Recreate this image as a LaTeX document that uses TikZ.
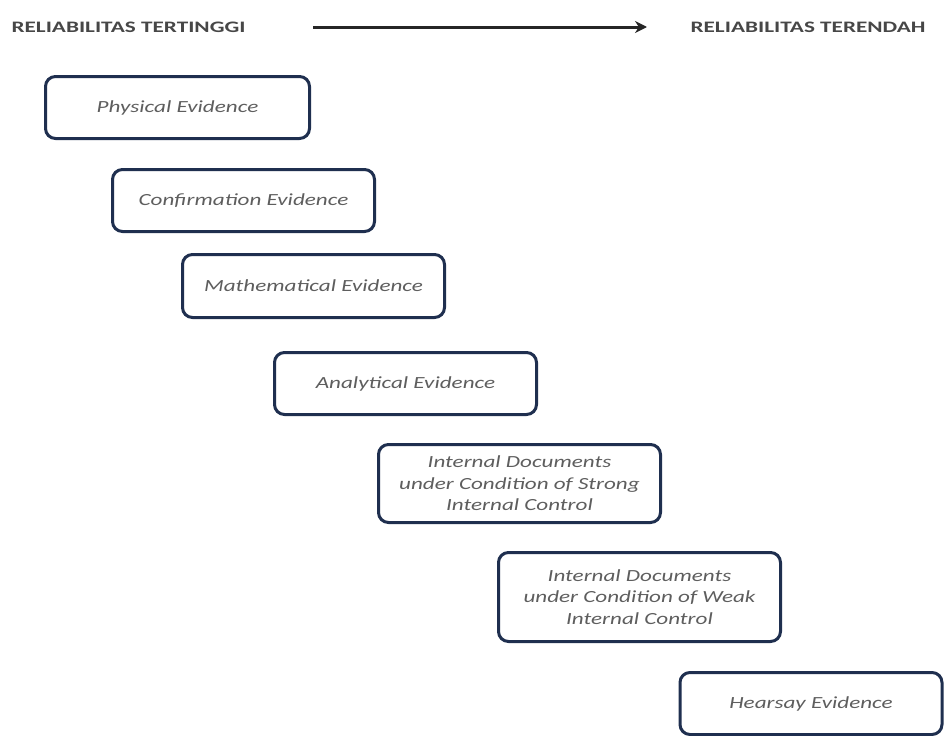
\documentclass[tikz,border=0pt]{standalone}
\usepackage{fontspec}
\setmainfont{Carlito}
\newfontfamily\boxfont[FakeStretch=1.36]{Carlito}
\newfontfamily\headfont[FakeStretch=1.45]{Carlito}
\usetikzlibrary{arrows.meta}
\definecolor{navy}{HTML}{1F2F4F}
\definecolor{txtgray}{HTML}{5E5E5E}
\definecolor{headgray}{HTML}{474747}
\begin{document}
\begin{tikzpicture}[x=1pt,y=-1pt,
  evbox/.style={draw=navy, line width=3pt, rounded corners=10pt, fill=white,
    align=center, inner sep=2pt, text=txtgray,
    font=\boxfont\itshape\fontsize{17}{21.5}\selectfont},
  headtext/.style={text=headgray, font=\headfont\bfseries\fontsize{16}{18}\selectfont, inner sep=0pt}]
\useasboundingbox (0,0) rectangle (946,736);
\node[headtext] (hi) at (128.5,27) {RELIABILITAS TERTINGGI};
\node[headtext] (lo) at (808,27) {RELIABILITAS TERENDAH};
\coordinate (as) at (313,27);
\coordinate (ae) at (647,27);
\draw[line width=3pt, draw=black!85, -{Stealth[length=12pt,width=12pt]}] (as) -- (ae);

\node[evbox, minimum width=264pt, minimum height=62pt] (b1) at (177.5,107.5) {Physical Evidence};
\node[evbox, minimum width=262pt, minimum height=62pt] (b2) at (243.5,200.5) {Confirmation Evidence};
\node[evbox, minimum width=262pt, minimum height=63pt] (b3) at (313.5,286) {Mathematical Evidence};
\node[evbox, minimum width=262pt, minimum height=62pt] (b4) at (405.5,383.5) {Analytical Evidence};
\node[evbox, minimum width=282pt, minimum height=78pt] (b5) at (519.5,483.5) {Internal Documents\\under Condition of Strong\\Internal Control};
\node[evbox, minimum width=282pt, minimum height=89pt] (b6) at (639.5,597) {Internal Documents\\under Condition of Weak\\Internal Control};
\node[evbox, minimum width=262pt, minimum height=62pt] (b7) at (811,703.5) {Hearsay Evidence};
\end{tikzpicture}
\end{document}
